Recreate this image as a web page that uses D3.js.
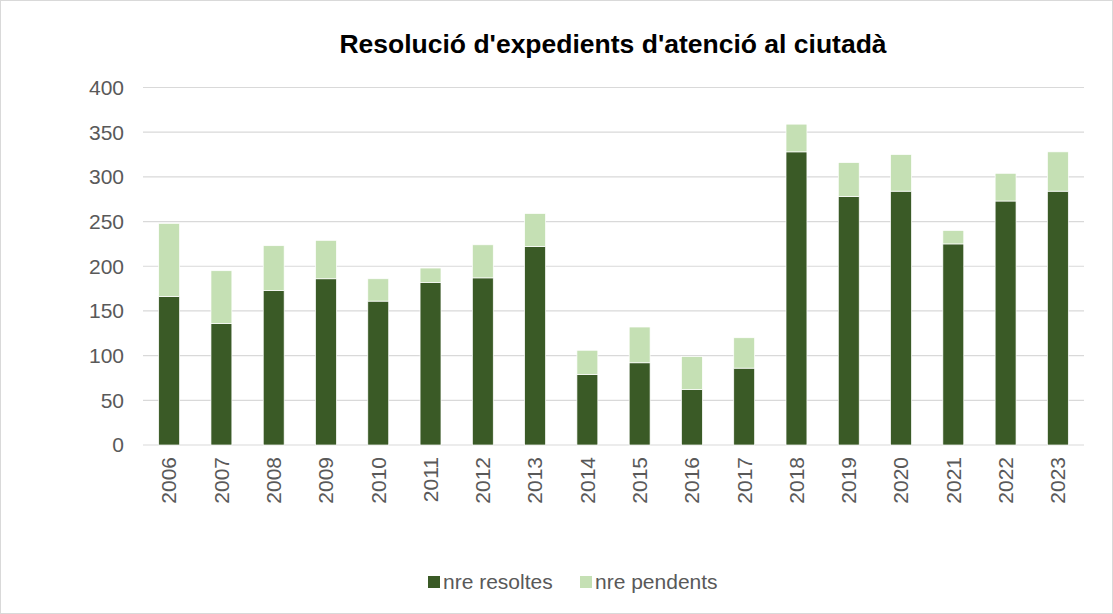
<!DOCTYPE html>
<html>
<head>
<meta charset="utf-8">
<script src="https://cdn.jsdelivr.net/npm/d3@7"></script>
<style>
  body { margin: 0; background: #fff; }
  svg { display: block; font-family: "Liberation Sans", Arial, sans-serif; }
</style>
</head>
<body>
<svg id="chart"></svg>
<script>
// data
const years = ["2006","2007","2008","2009","2010","2011","2012","2013","2014","2015","2016","2017","2018","2019","2020","2021","2022","2023"];
const resoltes = [166,136,173,186,161,182,187,222,79,92,62,86,328,278,284,225,273,284];
const pendents = [82,59,50,43,25,16,37,37,27,40,37,34,31,38,41,15,31,44];
const seriesNames = ["nre resoltes", "nre pendents"];
const yTicks = [0,50,100,150,200,250,300,350,400];

const width = 1113, height = 614;
const margin = {top: 87.5, right: 29, bottom: 169, left: 143};
const colors = ["#3a5a26", "#c5e0b4"];

const svg = d3.select("#chart").attr("width", width).attr("height", height);

// outer border
svg.append("rect")
  .attr("x", 0.5).attr("y", 0.5)
  .attr("width", width - 1).attr("height", height - 1)
  .attr("fill", "none").attr("stroke", "#d9d9d9");

const rows = years.map((y, i) => ({year: y, "nre resoltes": resoltes[i], "nre pendents": pendents[i]}));
const stacked = d3.stack().keys(seriesNames)(rows);

const x = d3.scaleBand().domain(years)
  .range([margin.left, width - margin.right])
  .paddingInner(0.6).paddingOuter(0.3);
const y = d3.scaleLinear().domain([0, 400]).range([height - margin.bottom, margin.top]);

// gridlines
svg.append("g")
  .selectAll("line")
  .data(yTicks)
  .join("line")
    .attr("x1", margin.left).attr("x2", width - margin.right)
    .attr("y1", d => y(d)).attr("y2", d => y(d))
    .attr("stroke", "#d9d9d9").attr("stroke-width", 1.2);

// y labels
svg.append("g")
  .selectAll("text")
  .data(yTicks)
  .join("text")
    .attr("x", 124).attr("y", d => y(d))
    .attr("dy", "0.35em")
    .attr("text-anchor", "end")
    .attr("font-size", 21)
    .attr("fill", "#595959")
    .text(d => d);

// bars
svg.append("g")
  .selectAll("g")
  .data(stacked)
  .join("g")
    .attr("fill", (d, i) => colors[i])
  .selectAll("rect")
  .data(d => d)
  .join("rect")
    .attr("x", d => x(d.data.year))
    .attr("width", x.bandwidth())
    .attr("y", d => y(d[1]))
    .attr("height", d => y(d[0]) - y(d[1]))
    .attr("stroke", "#fff").attr("stroke-width", 0.7);

// x labels (rotated)
svg.append("g")
  .selectAll("text")
  .data(years)
  .join("text")
    .attr("transform", d => `translate(${x(d) + x.bandwidth() / 2},${height - margin.bottom + 12}) rotate(-90)`)
    .attr("dy", "0.35em")
    .attr("text-anchor", "end")
    .attr("font-size", 21)
    .attr("fill", "#595959")
    .text(d => d);

// title
svg.append("text")
  .attr("x", 613).attr("y", 53)
  .attr("text-anchor", "middle")
  .attr("font-size", 26.5)
  .attr("font-weight", "bold")
  .attr("fill", "#000")
  .text("Resolució d'expedients d'atenció al ciutadà");

// legend
const legendItems = [{name: seriesNames[0], x: 428}, {name: seriesNames[1], x: 580}];
const lg = svg.append("g").selectAll("g").data(legendItems).join("g")
  .attr("transform", (d) => `translate(${d.x},582)`);
lg.append("rect")
  .attr("x", 0).attr("y", -6).attr("width", 12).attr("height", 12)
  .attr("fill", (d, i) => colors[i]);
lg.append("text")
  .attr("x", 15).attr("dy", "0.35em")
  .attr("font-size", 21)
  .attr("fill", "#595959")
  .text(d => d.name);
</script>
</body>
</html>
